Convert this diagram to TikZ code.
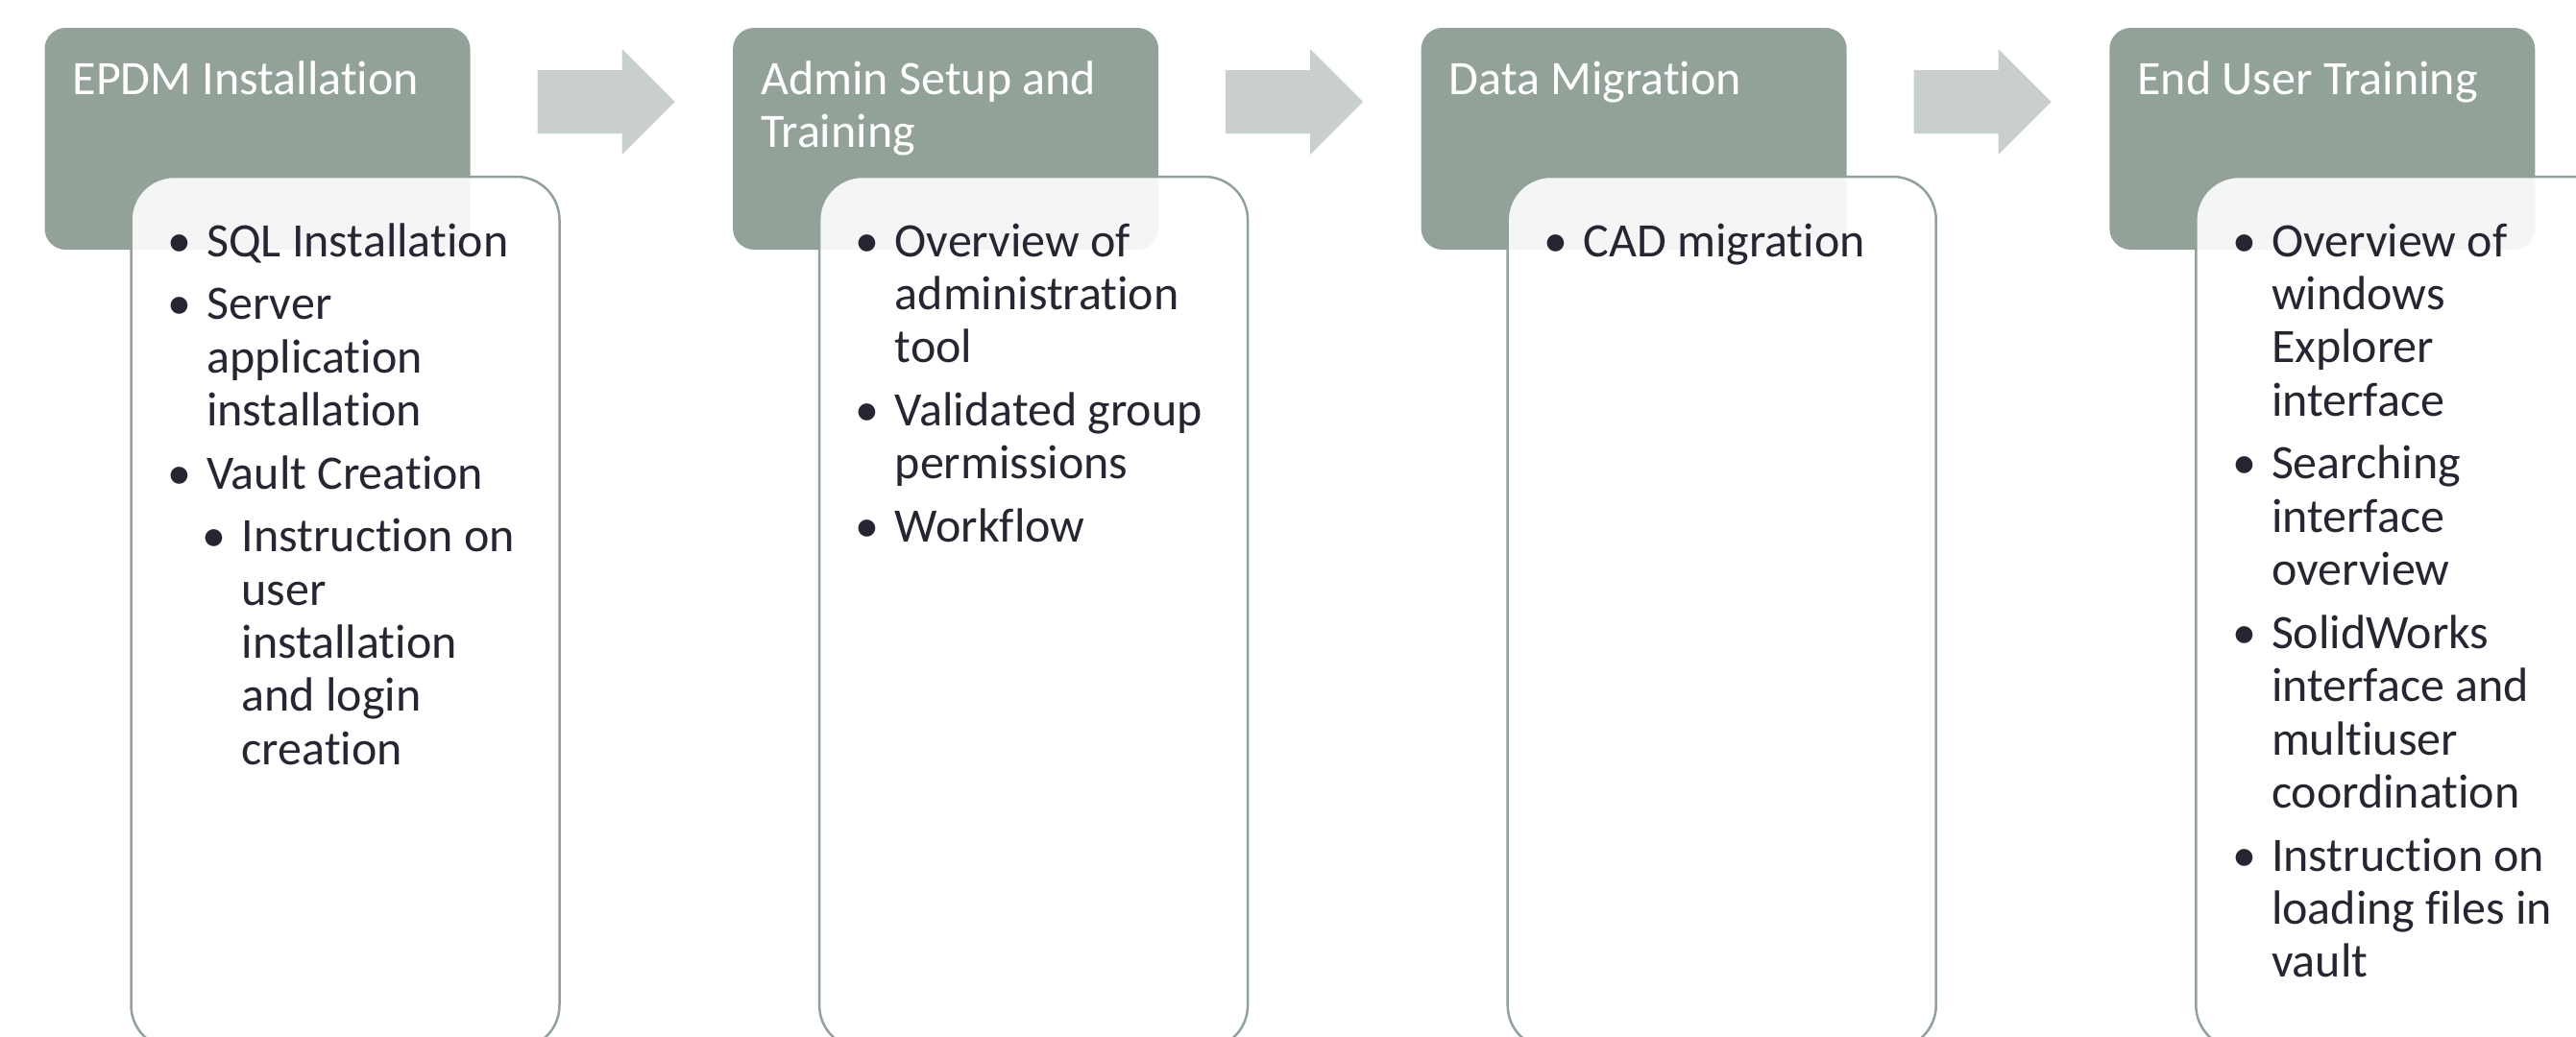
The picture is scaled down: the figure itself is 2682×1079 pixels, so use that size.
\documentclass[tikz,border=0pt]{standalone}
\usepackage{fontspec}
\setmainfont{Carlito}[RawFeature={-liga;-clig;-calt;-dlig}]
\definecolor{hdr}{HTML}{93A299}
\definecolor{arr}{HTML}{C9D0CB}
\definecolor{txt}{HTML}{262633}
\tikzset{
  hdrbox/.style={fill=hdr, rounded corners=22pt},
  bodybox/.style={draw=hdr, line width=2.5pt, fill=white, fill opacity=0.9, rounded corners=45pt},
  arrowshape/.style={fill=arr},
  hdrtext/.style={font=\fontsize{50}{55}\selectfont, text=white, inner sep=0pt, anchor=base west},
  bodytext/.style={font=\fontsize{50}{55}\selectfont, text=txt, inner sep=0pt, anchor=base west},
}
\newcommand{\bul}{\llap{\textbullet\hspace{16pt}}}
\begin{document}
\begin{tikzpicture}[x=1pt,y=-1pt]
\useasboundingbox (0,0) rectangle (2682,1079);
\clip (0,0) rectangle (2682,1079);

% Column 1
\begin{scope}
  \fill[hdrbox] (46.5,29) rectangle (489.5,260);
  \draw[bodybox] (136.5,184) rectangle (582.5,1092);
  \fill[arrowshape] (559.5,73) -- (647.5,73) -- (647.5,51) -- (702.5,106) -- (647.5,161) -- (647.5,139) -- (559.5,139) -- cycle;
  \node[hdrtext] (h1) at (75.5,98) {EPDM Installation};
  \node[bodytext] (a1) at (215,267) {\bul SQL Installation};
  \node[bodytext] (a2) at (215,332.6) {\bul Server};
  \node[bodytext] (a3) at (215,388.0) {application};
  \node[bodytext] (a4) at (215,443.4) {installation};
  \node[bodytext] (a5) at (215,509.0) {\bul Vault Creation};
  \node[bodytext] (a6) at (251.5,574.6) {\bul Instruction on};
  \node[bodytext] (a7) at (251.5,630.0) {user};
  \node[bodytext] (a8) at (251.5,685.4) {installation};
  \node[bodytext] (a9) at (251.5,740.8) {and login};
  \node[bodytext] (a10) at (251.5,796.2) {creation};
\end{scope}

% Column 2
\begin{scope}[xshift=716.6pt]
  \fill[hdrbox] (46.5,29) rectangle (489.5,260);
  \draw[bodybox] (136.5,184) rectangle (582.5,1092);
  \fill[arrowshape] (559.5,73) -- (647.5,73) -- (647.5,51) -- (702.5,106) -- (647.5,161) -- (647.5,139) -- (559.5,139) -- cycle;
  \node[hdrtext] (h2) at (75.5,98) {Admin Setup and};
  \node[hdrtext] (h2b) at (75.5,153.4) {Training};
  \node[bodytext] (b1) at (215,267) {\bul Overview of};
  \node[bodytext] (b2) at (215,322.4) {administration};
  \node[bodytext] (b3) at (215,377.8) {tool};
  \node[bodytext] (b4) at (215,443.4) {\bul Validated group};
  \node[bodytext] (b5) at (215,498.8) {permissions};
  \node[bodytext] (b6) at (215,564.4) {\bul Workflow};
\end{scope}

% Column 3
\begin{scope}[xshift=1433.2pt]
  \fill[hdrbox] (46.5,29) rectangle (489.5,260);
  \draw[bodybox] (136.5,184) rectangle (582.5,1092);
  \fill[arrowshape] (559.5,73) -- (647.5,73) -- (647.5,51) -- (702.5,106) -- (647.5,161) -- (647.5,139) -- (559.5,139) -- cycle;
  \node[hdrtext] (h3) at (75.5,98) {Data Migration};
  \node[bodytext] (c1) at (215,267) {\bul CAD migration};
\end{scope}

% Column 4
\begin{scope}[xshift=2149.8pt]
  \fill[hdrbox] (46.5,29) rectangle (489.5,260);
  \draw[bodybox] (136.5,184) rectangle (582.5,1092);
  \node[hdrtext] (h4) at (75.5,98) {End User Training};
  \node[bodytext] (d1) at (215,267) {\bul Overview of};
  \node[bodytext] (d2) at (215,322.4) {windows};
  \node[bodytext] (d3) at (215,377.8) {Explorer};
  \node[bodytext] (d4) at (215,433.2) {interface};
  \node[bodytext] (d5) at (215,498.8) {\bul Searching};
  \node[bodytext] (d6) at (215,554.2) {interface};
  \node[bodytext] (d7) at (215,609.6) {overview};
  \node[bodytext] (d8) at (215,675.2) {\bul SolidWorks};
  \node[bodytext] (d9) at (215,730.6) {interface and};
  \node[bodytext] (d10) at (215,786.0) {multiuser};
  \node[bodytext] (d11) at (215,841.4) {coordination};
  \node[bodytext] (d12) at (215,907.0) {\bul Instruction on};
  \node[bodytext] (d13) at (215,962.4) {loading files in};
  \node[bodytext] (d14) at (215,1017.8) {vault};
\end{scope}
\end{tikzpicture}
\end{document}
